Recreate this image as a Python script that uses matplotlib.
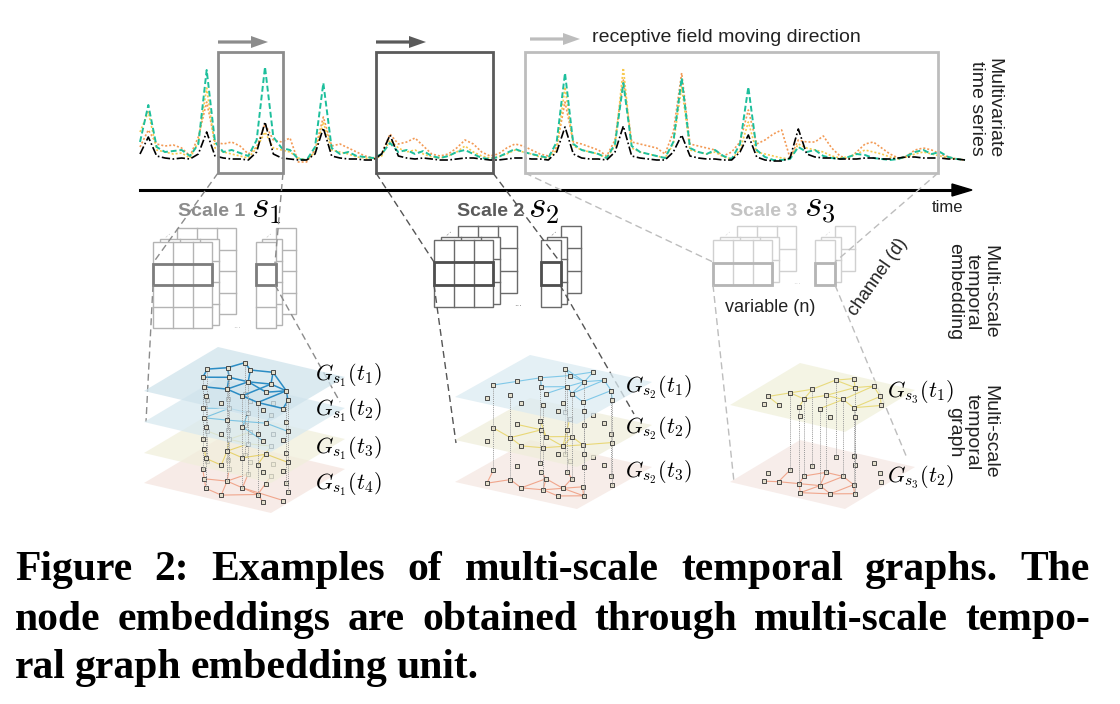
import matplotlib
matplotlib.use("Agg")
import matplotlib.pyplot as plt
from matplotlib.patches import Polygon, Rectangle, FancyArrow
import numpy as np

plt.rcParams['mathtext.fontset'] = 'cm'
SANS = 'Liberation Sans'

# ---- multivariate time series (height above baseline, one sample per step)
teal = [20, 57, 15, 10, 11, 12, 6, 18, 92, 20, 10, 12, 9, 6, 22, 95, 25, 14, 12, 3,
        2, 15, 79, 14, 8, 10, 6, 5, 4, 8, 19, 10, 12, 8, 11, 6, 4, 6, 10, 12,
        8, 4, 3, 5, 9, 13, 10, 8, 6, 4, 20, 89, 18, 12, 10, 8, 4, 18, 79, 16,
        10, 8, 6, 4, 20, 84, 14, 10, 8, 12, 6, 3, 18, 75, 12, 5, 2, 2, 3, 15,
        10, 12, 6, 4, 3, 5, 8, 7, 4, 3, 2, 3, 6, 10, 12, 8, 10, 5, 3, 2]
black = [8, 25, 6, 4, 3, 4, 3, 8, 30, 6, 4, 3, 3, 2, 10, 40, 8, 4, 3, 2,
         2, 8, 34, 6, 4, 3, 3, 2, 2, 8, 27, 6, 4, 3, 4, 3, 2, 2, 3, 4,
         4, 3, 2, 2, 3, 4, 4, 3, 3, 2, 10, 35, 8, 4, 3, 3, 2, 10, 36, 6,
         4, 3, 2, 2, 10, 27, 6, 4, 3, 3, 2, 2, 10, 27, 5, 2, 1, 1, 4, 33,
         8, 5, 4, 4, 3, 3, 3, 4, 4, 3, 3, 4, 5, 5, 4, 4, 4, 3, 3, 2]
orange = [15, 32, 18, 16, 17, 14, 6, 25, 60, 20, 18, 20, 16, 8, 15, 38, 22, 20, 24, 0,
          0, 12, 45, 16, 18, 14, 10, 6, 4, 8, 28, 18, 20, 24, 16, 8, 6, 8, 14, 22,
          18, 10, 6, 8, 14, 18, 16, 12, 8, 6, 15, 60, 20, 18, 15, 12, 6, 22, 82, 20,
          18, 16, 14, 8, 30, 89, 18, 16, 14, 12, 6, 10, 20, 52, 18, 22, 28, 32, 4, 22,
          20, 20, 26, 14, 6, 3, 10, 18, 20, 14, 8, 4, 6, 12, 14, 12, 8, 5, 3, 2]
yellow = [30, 50, 12, 10, 8, 9, 4, 20, 74, 14, 10, 8, 6, 4, 14, 30, 14, 12, 10, 4,
          2, 10, 40, 12, 10, 8, 5, 4, 3, 6, 22, 14, 10, 12, 8, 5, 4, 6, 10, 16,
          10, 6, 4, 5, 8, 12, 10, 8, 5, 4, 12, 75, 16, 12, 10, 8, 4, 16, 94, 14,
          10, 8, 6, 4, 18, 75, 12, 10, 8, 10, 5, 3, 12, 40, 10, 8, 6, 4, 3, 18,
          14, 12, 10, 6, 4, 5, 8, 12, 10, 8, 5, 3, 5, 8, 10, 8, 6, 4, 3, 2]

scale_names = ['Scale 1', 'Scale 2', 'Scale 3']
scale_syms = [r'$s_1$', r'$s_2$', r'$s_3$']

# ---- temporal graphs: node layout (u along front edge, v toward back)
nodes_s1 = [(0.30, 0.85), (0.25, 0.70), (0.40, 0.75), (0.55, 0.80), (0.20, 0.45),
            (0.35, 0.55), (0.50, 0.55), (0.65, 0.60), (0.80, 0.55), (0.90, 0.40),
            (0.30, 0.30), (0.45, 0.35), (0.60, 0.30), (0.75, 0.25), (0.85, 0.15),
            (0.40, 0.15), (0.55, 0.10), (0.70, 0.45), (0.15, 0.60), (0.95, 0.25)]
edges_s1 = [
    [(0, 1), (0, 2), (2, 3), (1, 5), (5, 6), (6, 7), (7, 8), (8, 9), (3, 7), (5, 11),
     (6, 11), (11, 12), (7, 12), (12, 13), (8, 13), (9, 19), (13, 19), (2, 6), (4, 5),
     (18, 4), (10, 11), (1, 18), (3, 8), (6, 17), (17, 8)],
    [(4, 5), (5, 10), (10, 11), (11, 17), (17, 9), (6, 12), (12, 14), (7, 17), (5, 6)],
    [(18, 5), (5, 6), (6, 11), (11, 12), (12, 17), (17, 9), (10, 15), (15, 16), (11, 16),
     (6, 7), (7, 13), (2, 5), (5, 11)],
    [(10, 15), (15, 16), (16, 13), (13, 14), (11, 12), (12, 13), (6, 12), (5, 11),
     (4, 10), (11, 16), (12, 19), (7, 13), (6, 11), (10, 11)],
]
links_s1 = [0, 1, 4, 5, 6, 8, 9, 11, 12, 13, 15, 18]

nodes_s2 = [(0.10, 0.35), (0.20, 0.50), (0.30, 0.65), (0.35, 0.90), (0.45, 0.80),
            (0.55, 0.95), (0.60, 0.75), (0.70, 0.85), (0.85, 0.70), (0.95, 0.55),
            (0.40, 0.50), (0.50, 0.40), (0.65, 0.50), (0.80, 0.40), (0.30, 0.25),
            (0.45, 0.15), (0.60, 0.20), (0.75, 0.15), (0.90, 0.25), (0.20, 0.10),
            (0.55, 0.60), (0.70, 0.30)]
edges_s2 = [
    [(0, 1), (1, 2), (2, 4), (3, 4), (4, 5), (5, 6), (6, 7), (7, 8), (8, 9), (4, 6),
     (6, 20), (20, 10), (10, 2), (11, 20), (20, 12), (12, 13), (13, 8), (6, 12), (3, 6),
     (2, 10), (12, 7)],
    [(0, 14), (14, 10), (10, 11), (11, 12), (12, 13), (13, 9), (1, 10), (14, 15), (15, 16),
     (16, 21), (21, 12), (20, 21), (4, 20), (2, 11), (11, 21), (21, 13)],
    [(19, 14), (14, 15), (15, 16), (16, 17), (17, 18), (16, 21), (21, 13), (13, 18),
     (11, 16), (11, 21), (10, 11), (0, 19), (12, 21), (15, 11), (21, 18), (20, 12)],
]
links_s2 = [0, 2, 3, 6, 8, 9, 12, 14, 16, 18, 20]

nodes_s3 = [(0.15, 0.30), (0.25, 0.45), (0.35, 0.60), (0.40, 0.85), (0.50, 0.95),
            (0.60, 0.80), (0.70, 0.90), (0.85, 0.75), (0.95, 0.60), (0.50, 0.55),
            (0.65, 0.55), (0.80, 0.45), (0.30, 0.20), (0.45, 0.25), (0.60, 0.30),
            (0.75, 0.20), (0.90, 0.30), (0.55, 0.10), (0.40, 0.40), (0.20, 0.15)]
edges_s3 = [
    [(0, 1), (1, 2), (2, 3), (3, 4), (4, 5), (5, 6), (6, 7), (7, 8), (5, 9), (9, 10),
     (10, 11), (11, 7), (2, 18), (18, 9), (10, 6), (1, 18), (13, 18), (14, 10), (3, 5),
     (11, 8), (0, 12)],
    [(19, 12), (12, 13), (13, 14), (14, 15), (15, 16), (13, 17), (17, 14), (14, 10),
     (10, 11), (11, 16), (18, 13), (9, 14), (1, 12), (18, 9), (9, 10), (15, 17), (11, 15)],
]
links_s3 = [1, 2, 3, 5, 9, 10, 11, 13, 14, 16, 18]

caption = ["Figure 2: Examples of multi-scale temporal graphs. The",
           "node embeddings are obtained through multi-scale tempo-",
           "ral graph embedding unit."]

fig = plt.figure(figsize=(11.2, 7.04), dpi=100)
ax = fig.add_axes([0, 0, 1, 1])
ax.set_xlim(0, 1120)
ax.set_ylim(704, 0)
ax.axis('off')

# ---------------- time series ----------------
base = 162
xs = np.linspace(140, 965, len(teal))
ax.plot(xs, base - np.array(orange), color='#f39a55', lw=1.2, ls=(0, (1.2, 1.2)), zorder=3)
ax.plot(xs, base - np.array(yellow), color='#f8c94e', lw=1.2, ls=(0, (1.2, 1.2)), zorder=3)
ax.plot(xs, base - np.array(teal), color='#1dbf9c', lw=1.4, ls=(0, (3, 1.5)), zorder=4)
ax.plot(xs, base - np.array(black), color='black', lw=1.2, ls=(0, (5, 1.5, 1, 1.5)), zorder=5)

# receptive field boxes and arrows
boxes = [(218, 283, '#8c8c8c'), (376, 493, '#5a5a5a'), (525, 938, '#bdbdbd')]
for x0, x1, c in boxes:
    ax.add_patch(Rectangle((x0, 52), x1 - x0, 121, fill=False, ec=c, lw=2.0, zorder=6))
for x0, y0, c in [(218, 42, '#8c8c8c'), (376, 42, '#5a5a5a'), (530, 39, '#bdbdbd')]:
    ax.add_patch(FancyArrow(x0, y0, 33, 0, width=3.2, head_width=12, head_length=17,
                            length_includes_head=False, color=c, lw=0, zorder=6))
ax.text(592, 38, 'receptive field moving direction', family=SANS, fontsize=14,
        color='#222', va='center', ha='left')

# time axis
ax.plot([140, 955], [190, 190], color='black', lw=2.2, zorder=6)
ax.add_patch(Polygon([[952, 184], [972, 190], [952, 196]], closed=True, color='black', zorder=6))
ax.text(948, 208, 'time', family=SANS, fontsize=12, color='#222', ha='center', va='center')

# right-hand labels
ax.text(985, 108, 'Multivariate\ntime series', family=SANS, fontsize=14, rotation=-90,
        ha='center', va='center', multialignment='center', linespacing=1.05, color='#222')
ax.text(972, 292, 'Multi-scale\ntemporal\nembedding', family=SANS, fontsize=14, rotation=-90,
        ha='center', va='center', multialignment='center', linespacing=1.05, color='#222')
ax.text(972, 432, 'Multi-scale\ntemporal\ngraph', family=SANS, fontsize=14, rotation=-90,
        ha='center', va='center', multialignment='center', linespacing=1.05, color='#222')

# ---------------- multi-scale embeddings ----------------
def grid_stack(x0, y0, ncols, nrows, cw, ch, offsets, color, hl, hlw):
    for dx, dy in offsets:
        gx, gy = x0 + dx, y0 + dy
        ax.add_patch(Rectangle((gx, gy), ncols * cw, nrows * ch, fc='white', ec=color,
                               lw=1.0, zorder=7))
        for i in range(1, ncols):
            ax.plot([gx + i * cw] * 2, [gy, gy + nrows * ch], color=color, lw=1.0, zorder=7)
        for j in range(1, nrows):
            ax.plot([gx, gx + ncols * cw], [gy + j * ch] * 2, color=color, lw=1.0, zorder=7)
    ax.add_patch(Rectangle((x0, y0 + ch), ncols * cw, ch, fill=False, ec=hl, lw=hlw, zorder=7.5))


stacks = [
    # (matrix x, y, rows, col x, row height, grid colour, highlight colour)
    (153, 242, 4, 256, 21.5, '#b4b4b4', '#7d7d7d'),
    (434, 240, 3, 541, 22.3, '#6a6a6a', '#4f4f4f'),
    (713, 240, 2, 815, 22.5, '#d0d0d0', '#b5b5b5'),
]
for mx, my, nr, cx, ch, col, hl in stacks:
    grid_stack(mx, my, 3, nr, 19.8, ch, [(24, -14), (7, -3), (0, 0)], col, hl, 2.0)
    grid_stack(cx, my, 1, nr, 19.5, ch, [(20, -14), (6, -3), (0, 0)], col, hl, 2.0)
    ax.text(mx + 14, my - 8, '...', fontsize=6, color=col, rotation=40, ha='center', va='center')
    ax.text(cx + 12, my - 8, '...', fontsize=6, color=col, rotation=40, ha='center', va='center')
    ax.text(mx + 84, my + nr * ch - 3, '...', fontsize=6, color=col, ha='center', va='center')

label_pos = [(178, 251, '#8c8c8c'), (457, 528, '#5a5a5a'), (730, 804, '#c4c4c4')]
for (lx, sx, c), name, sym in zip(label_pos, scale_names, scale_syms):
    ax.text(lx, 212, name, family=SANS, fontweight='bold', fontsize=14, color=c,
            ha='left', va='center', zorder=8)
    ax.text(sx, 208, sym, fontsize=27, color='black', ha='left', va='center', zorder=8)

ax.text(770, 308, 'variable (n)', family=SANS, fontsize=13, color='#222', ha='center', va='center')
ax.text(878, 277, 'channel (d)', family=SANS, fontsize=13, color='#222', rotation=55,
        ha='center', va='center')

# dashed connectors
conn = [
    ('#8c8c8c', [(218, 173), (153, 263)], [(153, 285), (146, 422)]),
    ('#8c8c8c', [(283, 173), (275, 263)], [(275, 285), (340, 402)]),
    ('#555555', [(376, 173), (434, 262)], [(434, 285), (456, 443)]),
    ('#555555', [(493, 173), (560, 262)], [(560, 285), (634, 414)]),
    ('#bdbdbd', [(525, 173), (713, 262)], [(713, 285), (734, 482)]),
    ('#bdbdbd', [(938, 173), (835, 262)], [(835, 285), (907, 458)]),
]
for c, s1, s2 in conn:
    for seg in (s1, s2):
        ax.plot([seg[0][0], seg[1][0]], [seg[0][1], seg[1][1]], color=c, lw=1.0,
                ls=(0, (5, 3)), zorder=9)

# ---------------- temporal graphs ----------------
def graph_stack(lx, lys, e1, e2, nodes, edges, links, plane_cols, edge_cols, labels, lab_x,
                lab_ys, sub):
    e1 = np.array(e1, float)
    e2 = np.array(e2, float)
    uv = np.array(nodes)

    def pts(ly):
        return np.array([lx, ly]) + uv[:, :1] * e2 + uv[:, 1:] * e1

    n_layers = len(lys)
    for k in range(n_layers - 1, -1, -1):
        L = np.array([lx, lys[k]], float)
        quad = [L, L + e1, L + e1 + e2, L + e2]
        ax.add_patch(Polygon(quad, closed=True, fc=plane_cols[k], ec='none', alpha=0.75,
                             zorder=10 + (n_layers - k) * 2))
        p = pts(lys[k])
        z = 10 + (n_layers - k) * 2 + 1
        for i, j in edges[k]:
            ax.plot([p[i, 0], p[j, 0]], [p[i, 1], p[j, 1]], color=edge_cols[k],
                    lw=1.1 if k == 0 and sub == 1 else 0.8, zorder=z)
        if k < n_layers - 1:
            q = pts(lys[k + 1])
            for i in links:
                ax.plot([p[i, 0], q[i, 0]], [p[i, 1], q[i, 1]], color='#9a9a9a', lw=0.7,
                        ls=(0, (1, 1)), zorder=z)
        ax.plot(p[:, 0], p[:, 1], ls='none', marker='s', ms=2.6, mfc='#e4dfcc',
                mec='#333333', mew=0.6, zorder=z + 0.5)
    for t, ly in zip(labels, lab_ys):
        ax.text(lab_x, ly, r'$G_{s_%d}(t_%d)$' % (sub, t), fontsize=16, ha='left',
                va='center', zorder=30)


graph_stack(144, [391, 422, 453, 483], (74, -44), (127, 30), nodes_s1, edges_s1, links_s1,
            ['#cfe3ec', '#d8e9f0', '#f1efdc', '#f5e5df'],
            ['#2b8cc4', '#7cc3e2', '#e7d26e', '#f0a68c'],
            [1, 2, 3, 4], 315, [375, 410, 448, 484], 1)
graph_stack(455, [397, 440, 482], (75, -42), (122, 27), nodes_s2, edges_s2, links_s2,
            ['#dbebf2', '#f0eedb', '#f5e7e2'],
            ['#80c8e8', '#e9d877', '#f0a68c'],
            [1, 2, 3], 625, [387, 428, 472], 2)
graph_stack(730, [405, 482], (70, -42), (115, 27), nodes_s3, edges_s3, links_s3,
            ['#f1f1dc', '#f5e7e3'],
            ['#e8da7c', '#f0a68c'],
            [1, 2], 887, [392, 477], 3)

# ---------------- caption (justified) ----------------
renderer = fig.canvas.get_renderer()
cap_ys = [580, 630, 678]
for n, (line, y) in enumerate(zip(caption, cap_ys)):
    words = line.split(' ')
    texts = [ax.text(0, y, w, family='Liberation Serif', fontweight='bold', fontsize=30,
                     ha='left', va='baseline') for w in words]
    widths = [t.get_window_extent(renderer).width for t in texts]
    if n < len(caption) - 1:
        gap = (1090 - 15 - sum(widths)) / (len(words) - 1)
    else:
        gap = 9
    x = 15
    for t, w in zip(texts, widths):
        t.set_x(x)
        x += w + gap

fig.savefig('out.png', dpi=100)
